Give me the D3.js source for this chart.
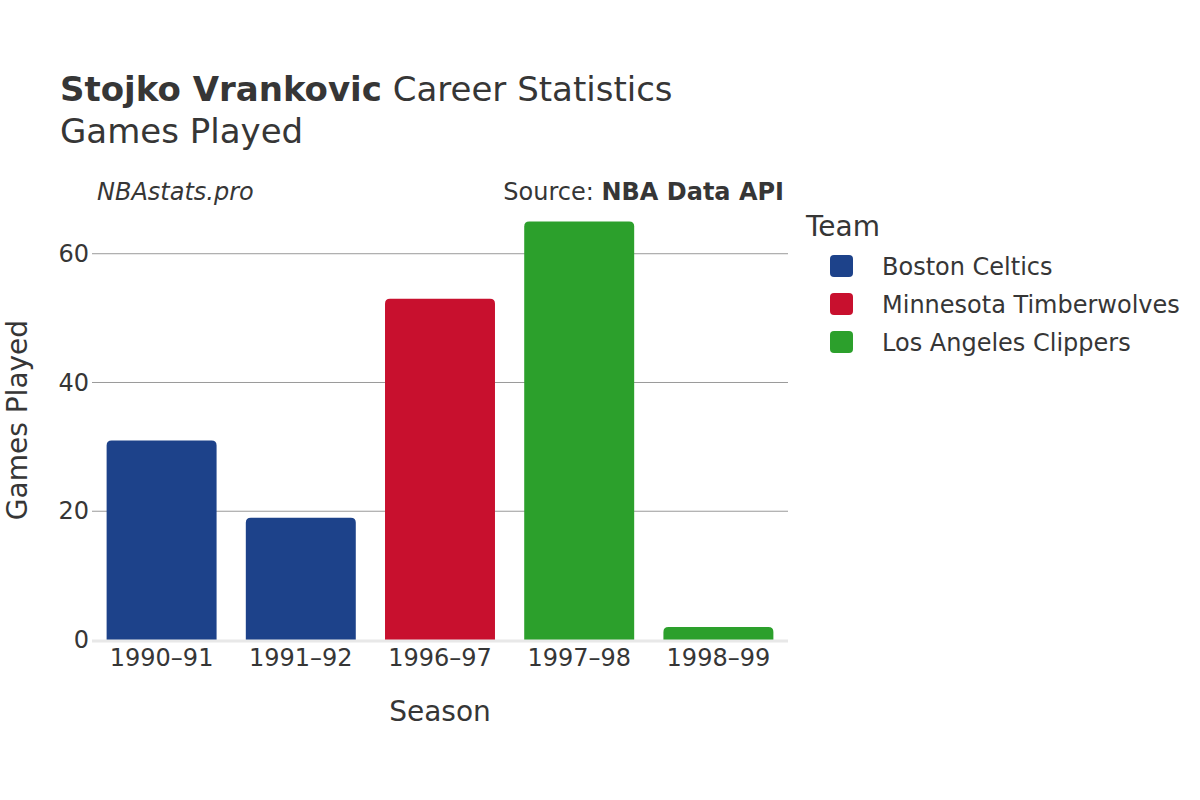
<!DOCTYPE html>
<html>
<head>
<meta charset="utf-8">
<script src="https://cdn.jsdelivr.net/npm/d3@7"></script>
<style>
  body { margin: 0; background: #fff; }
  text { font-family: "DejaVu Sans", sans-serif; fill: #363636; }
</style>
</head>
<body>
<div id="chart"></div>
<script>
const seasons = ['1990–91', '1991–92', '1996–97', '1997–98', '1998–99'];
const gamesPlayed = [31, 19, 53, 65, 2];
const seasonTeams = ['Boston Celtics', 'Boston Celtics', 'Minnesota Timberwolves', 'Los Angeles Clippers', 'Los Angeles Clippers'];
const teams = ['Boston Celtics', 'Minnesota Timberwolves', 'Los Angeles Clippers'];
const teamColors = ['#1d428a', '#c8102e', '#2ca02c'];
const yTicks = [0, 20, 40, 60];

const data = seasons.map((s, i) => ({ season: s, games: gamesPlayed[i], team: seasonTeams[i] }));

const svgWidth = 1200, svgHeight = 800;
const margin = { top: 190, right: 412, bottom: 160, left: 92 };
const width = svgWidth - margin.left - margin.right;
const height = svgHeight - margin.top - margin.bottom;

const svg = d3.select('#chart')
    .append('svg')
    .attr('width', svgWidth)
    .attr('height', svgHeight);

const bounds = svg.append('g')
    .attr('transform', `translate(${margin.left}, ${margin.top})`);

const xScale = d3.scaleBand()
    .domain(seasons)
    .range([0, width])
    .paddingInner(0.21)
    .paddingOuter(0.105);

const yScale = d3.scaleLinear()
    .domain([0, 69.9])
    .range([height, 0]);

const color = d3.scaleOrdinal()
    .domain(teams)
    .range(teamColors);

// grid lines
bounds.append('g')
    .selectAll('line')
    .data(yTicks.filter(d => d > 0))
    .join('line')
    .attr('x1', 0)
    .attr('x2', width)
    .attr('y1', d => yScale(d))
    .attr('y2', d => yScale(d))
    .attr('stroke', '#9a9a9a')
    .attr('stroke-width', 1);

// y tick labels
const yAxis = bounds.append('g')
    .call(d3.axisLeft(yScale).tickValues(yTicks).tickSize(0).tickPadding(3));
yAxis.select('.domain').remove();
yAxis.attr('font-size', null).attr('font-family', null);
yAxis.selectAll('text')
    .style('font-size', '24px')
    .attr('fill', '#363636');

// bars with rounded tops
const r = 5;
bounds.selectAll('path.bar')
    .data(data)
    .join('path')
    .attr('class', 'bar')
    .attr('fill', d => color(d.team))
    .attr('d', d => {
        const x0 = xScale(d.season), x1 = x0 + xScale.bandwidth();
        const y0 = yScale(0), y1 = yScale(d.games);
        const rr = Math.min(r, (y0 - y1) / 2);
        return `M${x0},${y0} V${y1 + rr} Q${x0},${y1} ${x0 + rr},${y1} H${x1 - rr} Q${x1},${y1} ${x1},${y1 + rr} V${y0} Z`;
    });

// zero line
bounds.append('line')
    .attr('x1', 0)
    .attr('x2', width)
    .attr('y1', yScale(0) + 1)
    .attr('y2', yScale(0) + 1)
    .attr('stroke', '#e8e8e8')
    .attr('stroke-width', 3);

// x axis labels
const xAxis = bounds.append('g')
    .attr('transform', `translate(0, ${height})`)
    .call(d3.axisBottom(xScale).tickSize(0).tickPadding(9));
xAxis.select('.domain').remove();
xAxis.attr('font-size', null).attr('font-family', null);
xAxis.selectAll('text')
    .style('font-size', '24px')
    .attr('fill', '#363636');

// axis titles
svg.append('text')
    .attr('x', margin.left + width / 2)
    .attr('y', 721)
    .attr('text-anchor', 'middle')
    .attr('font-size', 28)
    .text('Season');

svg.append('text')
    .attr('transform', `translate(27, ${margin.top + height / 2 + 5}) rotate(-90)`)
    .attr('text-anchor', 'middle')
    .attr('font-size', 28)
    .text('Games Played');

// titles
const title = svg.append('text')
    .attr('x', 60)
    .attr('y', 101)
    .attr('font-size', 34);
title.append('tspan').attr('font-weight', 'bold').text('Stojko Vrankovic');
title.append('tspan').text(' Career Statistics');

svg.append('text')
    .attr('x', 60)
    .attr('y', 143)
    .attr('font-size', 34)
    .text('Games Played');

svg.append('text')
    .attr('x', 97)
    .attr('y', 200)
    .attr('font-size', 24)
    .attr('font-style', 'italic')
    .text('NBAstats.pro');

const src = svg.append('text')
    .attr('x', 784)
    .attr('y', 200)
    .attr('text-anchor', 'end')
    .attr('font-size', 24);
src.append('tspan').text('Source: ');
src.append('tspan').attr('font-weight', 'bold').text('NBA Data API');

// legend
const legend = svg.append('g')
    .attr('transform', 'translate(806, 0)');

legend.append('text')
    .attr('x', 0)
    .attr('y', 236)
    .attr('font-size', 28)
    .text('Team');

const items = legend.selectAll('g.item')
    .data(teams)
    .join('g')
    .attr('class', 'item')
    .attr('transform', (d, i) => `translate(0, ${266 + i * 38})`);

items.append('rect')
    .attr('x', 24)
    .attr('y', -11)
    .attr('width', 23)
    .attr('height', 22)
    .attr('rx', 4)
    .attr('fill', d => color(d));

items.append('text')
    .attr('x', 76)
    .attr('y', 9)
    .attr('font-size', 24)
    .text(d => d);
</script>
</body>
</html>
